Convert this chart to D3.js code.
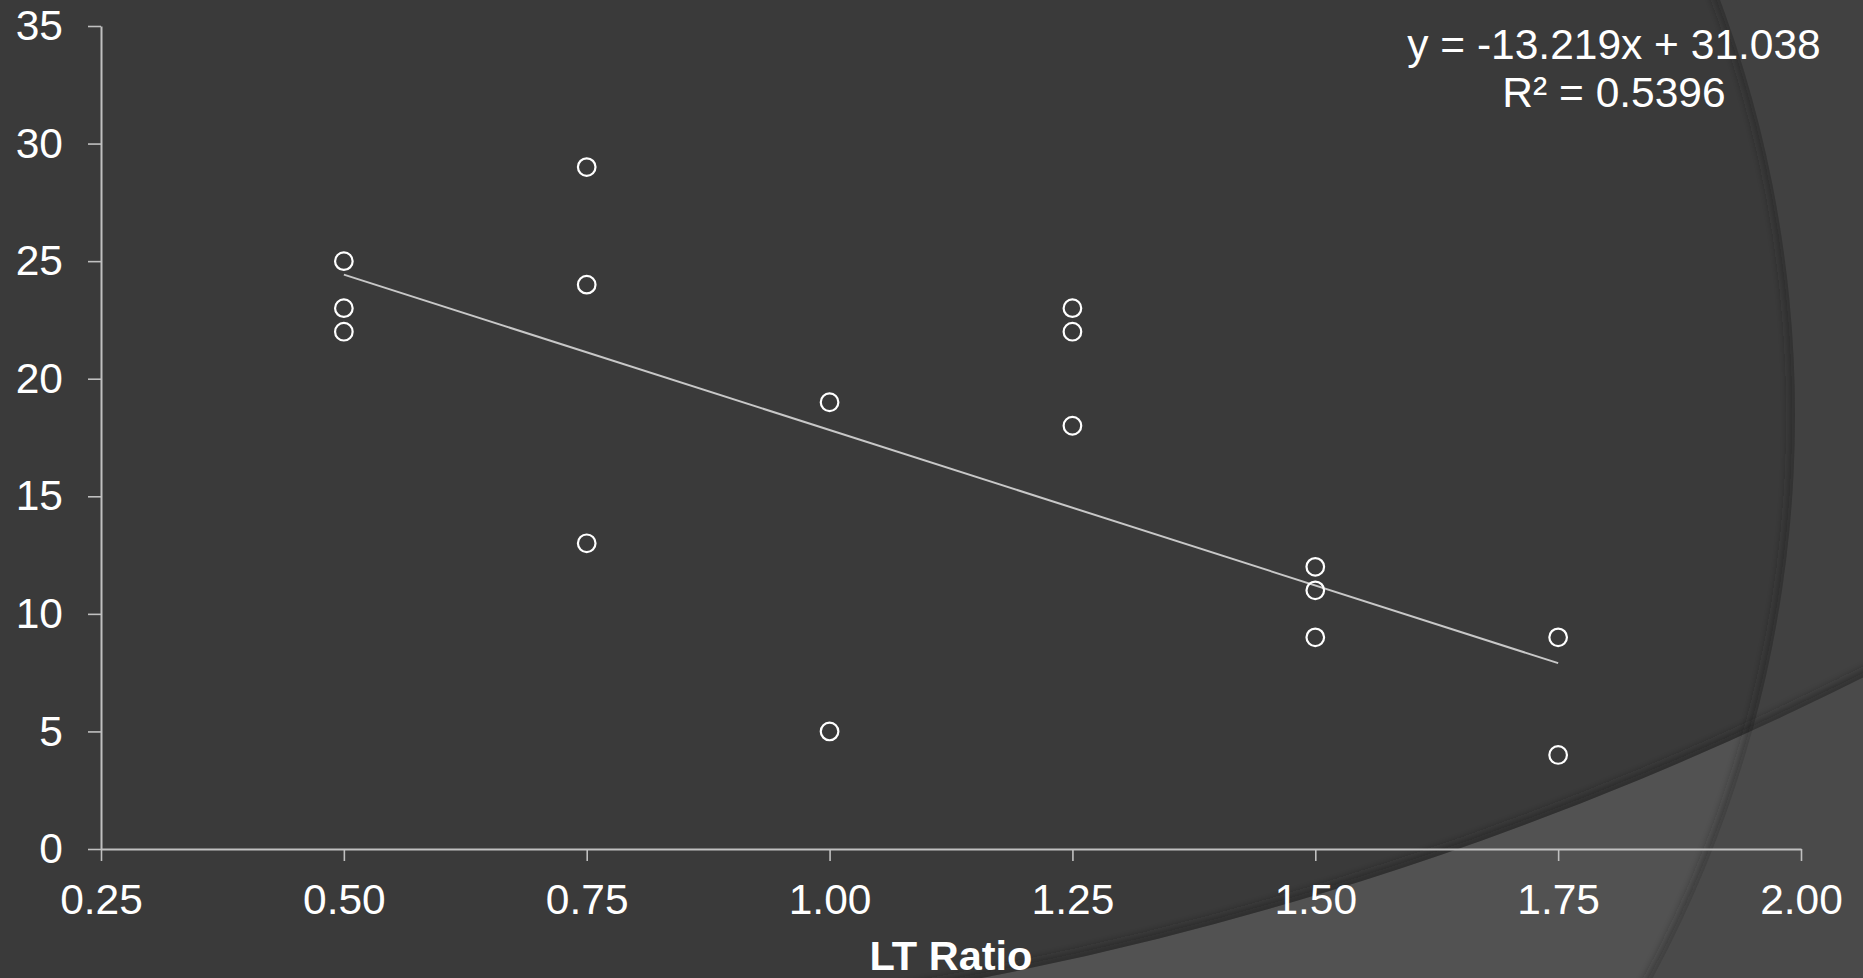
<!DOCTYPE html>
<html>
<head>
<meta charset="utf-8">
<script src="https://cdn.jsdelivr.net/npm/d3@7"></script>
<style>
  html, body { margin: 0; padding: 0; background: #3a3a3a; overflow: hidden; }
  svg { display: block; }
  text { font-family: "Liberation Sans", Arial, Helvetica, sans-serif; fill: #ffffff; }
</style>
</head>
<body>
<script>
// ---- data ----
const ltRatio = [0.5, 0.5, 0.5, 0.75, 0.75, 0.75, 1.0, 1.0, 1.25, 1.25, 1.25, 1.5, 1.5, 1.5, 1.75, 1.75];
const values  = [25, 23, 22, 29, 24, 13, 19, 5, 23, 22, 18, 12, 11, 9, 9, 4];
const xTicks = [0.25, 0.5, 0.75, 1.0, 1.25, 1.5, 1.75, 2.0];
const yTicks = [0, 5, 10, 15, 20, 25, 30, 35];
const trendSlope = -13.219;
const trendIntercept = 31.038;
const trendRange = [0.5, 1.75];
const rSquared = 0.5396;
const xTitle = "LT Ratio";

// ---- layout ----
const W = 1863, H = 978;
const FS = "42.5px";
const svg = d3.select("body").append("svg").attr("width", W).attr("height", H);

const x = d3.scaleLinear().domain([0.25, 2.0]).range([101, 1801]);
const y = d3.scaleLinear().domain([0, 35]).range([849, 26]);

// ---- background decoration ----
const defs = svg.append("defs");
defs.append("filter").attr("id", "blur").attr("x", "-10%").attr("y", "-10%").attr("width", "120%").attr("height", "120%")
  .append("feGaussianBlur").attr("stdDeviation", 4);
const c1 = {cx: 609, cy: 415, r: 1186};
const c2 = {cx: 320, cy: -2407, r: 3449};
defs.append("clipPath").attr("id", "inC1").append("circle").attr("cx", c1.cx).attr("cy", c1.cy).attr("r", c1.r);
defs.append("clipPath").attr("id", "inC2").append("circle").attr("cx", c2.cx).attr("cy", c2.cy).attr("r", c2.r);

function outside(c) {
  return `M0,0H${W}V${H}H0Z M${c.cx - c.r},${c.cy} a${c.r},${c.r} 0 1,0 ${2 * c.r},0 a${c.r},${c.r} 0 1,0 ${-2 * c.r},0Z`;
}
svg.append("rect").attr("width", W).attr("height", H).attr("fill", "#3a3a3a");
svg.append("path").attr("d", outside(c2)).attr("fill", "#525252").attr("fill-rule", "evenodd");
svg.append("path").attr("d", outside(c1)).attr("fill", "#464646").attr("fill-opacity", 0.6).attr("fill-rule", "evenodd");
// shadows along the edges
svg.append("g").attr("clip-path", "url(#inC2)")
  .append("circle").attr("cx", c2.cx).attr("cy", c2.cy).attr("r", c2.r)
  .attr("fill", "none").attr("stroke", "#262626").attr("stroke-width", 14).attr("stroke-opacity", 0.5)
  .attr("filter", "url(#blur)");
svg.append("g").attr("clip-path", "url(#inC1)")
  .append("circle").attr("cx", c1.cx).attr("cy", c1.cy).attr("r", c1.r)
  .attr("fill", "none").attr("stroke", "#262626").attr("stroke-width", 12).attr("stroke-opacity", 0.45)
  .attr("filter", "url(#blur)");

// ---- axes ----
const axisColor = "#c0c0c0";
const gx = svg.append("g").attr("transform", `translate(0,${y(0)})`)
  .call(d3.axisBottom(x).tickValues(xTicks).tickFormat(d3.format(".2f")).tickSize(12).tickSizeOuter(0).tickPadding(23));
const gy = svg.append("g").attr("transform", `translate(${x(0.25)},0)`)
  .call(d3.axisLeft(y).tickValues(yTicks).tickFormat(d3.format("d")).tickSize(13).tickSizeOuter(0).tickPadding(25));
[gx, gy].forEach(g => {
  g.select(".domain").attr("stroke", axisColor).attr("stroke-width", 2);
  g.selectAll(".tick line").attr("stroke", axisColor).attr("stroke-width", 1.6);
  g.selectAll(".tick text").attr("fill", "#ffffff").style("font-size", FS)
    .style("font-family", '"Liberation Sans", Arial, sans-serif');
});

// ---- trendline ----
const trendPts = trendRange.map(v => [v, trendSlope * v + trendIntercept]);
svg.append("path")
  .attr("d", d3.line().x(d => x(d[0])).y(d => y(d[1]))(trendPts))
  .attr("stroke", "#c8c8c8").attr("stroke-width", 2).attr("fill", "none");

// ---- points ----
svg.append("g").selectAll("circle").data(d3.zip(ltRatio, values)).join("circle")
  .attr("cx", d => x(d[0])).attr("cy", d => y(d[1])).attr("r", 8.8)
  .attr("fill", "none").attr("stroke", "#ffffff").attr("stroke-width", 2.2);

// ---- equation ----
const eqX = 1614;
svg.append("text").attr("x", eqX).attr("y", 59).attr("text-anchor", "middle").style("font-size", FS)
  .text(`y = ${trendSlope.toFixed(3)}x + ${trendIntercept.toFixed(3)}`);
svg.append("text").attr("x", eqX).attr("y", 107).attr("text-anchor", "middle").style("font-size", FS)
  .text(`R² = ${rSquared.toFixed(4)}`);

// ---- axis title ----
svg.append("text").attr("x", (x(0.25) + x(2.0)) / 2).attr("y", 970).attr("text-anchor", "middle")
  .style("font-size", "41.5px").style("font-weight", "bold").text(xTitle);
</script>
</body>
</html>
